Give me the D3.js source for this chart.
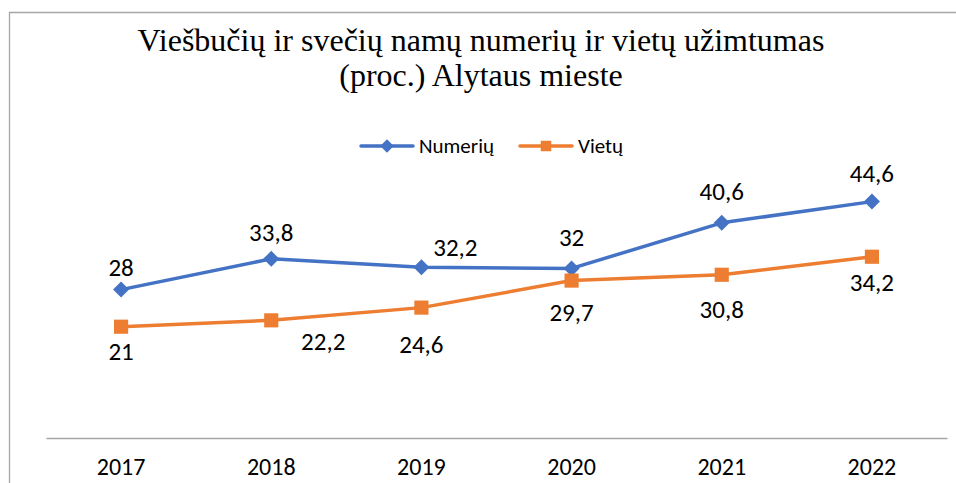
<!DOCTYPE html>
<html><head><meta charset="utf-8">
<script src="https://cdn.jsdelivr.net/npm/d3@7"></script>
<style>html,body{margin:0;padding:0;background:#fff;overflow:hidden}</style>
</head><body>
<svg id="c" width="956" height="483"></svg>
<script>
const years = ["2017","2018","2019","2020","2021","2022"];
const numeriu = [28, 33.8, 32.2, 32, 40.6, 44.6];
const vietu = [21, 22.2, 24.6, 29.7, 30.8, 34.2];
const numeriuLabels = ["28","33,8","32,2","32","40,6","44,6"];
const vietuLabels = ["21","22,2","24,6","29,7","30,8","34,2"];
const titleLines = ["Viešbučių ir svečių namų numerių ir vietų užimtumas", "(proc.) Alytaus mieste"];

// label offsets (layout)
const numOff = [[0,-22],[0,-27],[34,-20],[0,-31],[0,-32],[0,-28]];
const vieOff = [[0,25],[52,21],[0,37],[0,32],[0,34],[0,26]];

const svg = d3.select("#c");
const W = 956, H = 483;
const blue = "#4472C4", orange = "#ED7D31";
const lblFont = "Carlito, Lato, 'Open Sans', sans-serif";

// frame
svg.append("line").attr("x1",9).attr("x2",W).attr("y1",12.5).attr("y2",12.5).attr("stroke","#a6a6a6").attr("stroke-width",1.3);
svg.append("line").attr("x1",9.5).attr("x2",9.5).attr("y1",12).attr("y2",H).attr("stroke","#a6a6a6").attr("stroke-width",1.3);

// title
const t = svg.append("text").attr("text-anchor","middle")
  .attr("font-family","'Liberation Serif','Times New Roman',serif").attr("font-size",32).attr("fill","#000");
titleLines.forEach((s,i)=>t.append("tspan").attr("x",481).attr("y",51+i*35).text(s));

const x = d3.scaleBand().domain(years).range([46,947]);
const y = d3.scaleLinear().domain([0,60]).range([438,120]);
const cx = d => x(d) + x.bandwidth()/2;

// x axis
const xAxis = d3.axisBottom(x).tickSize(0).tickPadding(20);
const ga = svg.append("g").attr("transform","translate(0,438)").call(xAxis);
ga.select(".domain").attr("stroke","#a6a6a6").attr("stroke-width",1.5);
ga.selectAll("text").attr("font-family",lblFont).attr("font-size",24).attr("fill","#000");

const line = d3.line().x((d,i)=>cx(years[i])).y(d=>y(d));

function marker(shape, big){
  if(shape==="diamond") return d3.symbol().type(d3.symbolSquare).size(big?128:90)();
  return d3.symbol().type(d3.symbolSquare).size(big?200:110)();
}

function series(vals, color, shape, labels, offs){
  svg.append("path").datum(vals).attr("d",line).attr("fill","none").attr("stroke",color).attr("stroke-width",3.5).attr("stroke-linejoin","round");
  svg.selectAll(null).data(vals).enter().append("path")
    .attr("d",marker(shape,true)).attr("fill",color)
    .attr("transform",(d,i)=>`translate(${cx(years[i])},${y(d)})${shape==="diamond"?" rotate(45)":""}`);
  svg.selectAll(null).data(vals).enter().append("text")
    .attr("x",(d,i)=>cx(years[i])+offs[i][0]).attr("y",(d,i)=>y(d)+offs[i][1])
    .attr("dy","0.35em").attr("text-anchor","middle")
    .attr("font-family",lblFont).attr("font-size",25).attr("fill","#000")
    .text((d,i)=>labels[i]);
}
series(numeriu, blue, "diamond", numeriuLabels, numOff);
series(vietu, orange, "square", vietuLabels, vieOff);

// legend
const leg = [{name:"Numerių",color:blue,shape:"diamond",x:361},{name:"Vietų",color:orange,shape:"square",x:520}];
leg.forEach(l=>{
  const g = svg.append("g").attr("transform",`translate(${l.x},146)`);
  g.append("line").attr("x1",0).attr("x2",52).attr("stroke",l.color).attr("stroke-width",3.5).attr("stroke-linecap","round");
  g.append("path").attr("d",marker(l.shape,false)).attr("fill",l.color).attr("transform",`translate(26,0)${l.shape==="diamond"?" rotate(45)":""}`);
  g.append("text").attr("x",58).attr("dy","0.35em").attr("font-family",lblFont).attr("font-size",21).attr("fill","#000").text(l.name);
});
</script>
</body></html>
